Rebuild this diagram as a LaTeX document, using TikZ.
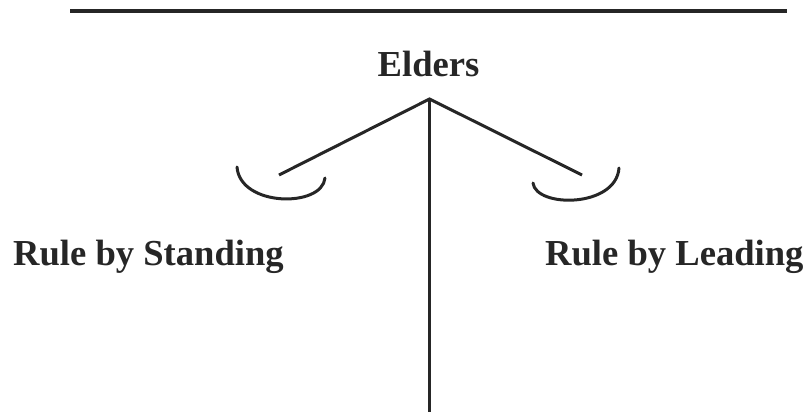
\documentclass[tikz,border=0pt]{standalone}
\usepackage{fontspec}
\setmainfont{Liberation Serif}
\usetikzlibrary{positioning}

\tikzset{
  bar/.style={line width=3.6pt,draw=black!85},
  beam/.style={line width=3pt,draw=black!85},
  pan/.style={line width=3pt,draw=black!85,line cap=round},
  title/.style={font=\fontsize{36.6}{40}\selectfont\bfseries,text=black!85,inner sep=0pt,anchor=base}
}

\begin{document}
\begin{tikzpicture}[x=1pt,y=-1pt]
  \useasboundingbox (0,0) rectangle (809,412);
  \draw[bar] (70,11) -- (787,11);
  \node[title] (elders) at (428.5,77) {Elders};
  \coordinate (top) at (429.5,99);
  \coordinate (foot) at (429.5,412);
  \coordinate (L) at (279,175);
  \coordinate (R) at (582,175);
  \draw[beam] (top) -- (foot);
  \draw[beam] (L) -- (top) -- (R);
  % the two scale pans
  \draw[pan] (237,167) .. controls (240,207) and (322,208) .. (325,178);
  \draw[pan] (533,183) .. controls (536,208) and (616,208) .. (619,168);
  \node[title,anchor=base west] (standing) at (13,265) {Rule by Standing};
  \node[title,anchor=base west] (leading) at (545,265) {Rule by Leading};
\end{tikzpicture}
\end{document}
